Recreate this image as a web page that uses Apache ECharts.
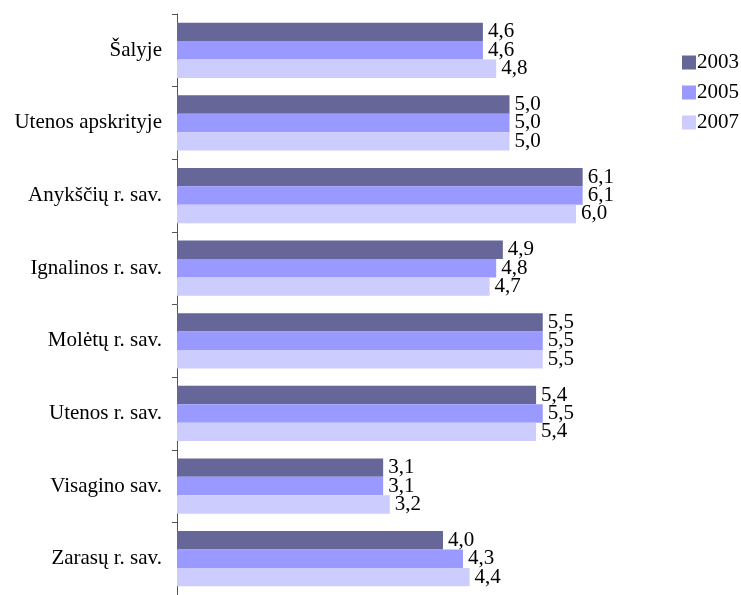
<!DOCTYPE html>
<html>
<head>
<meta charset="utf-8">
<script src="https://cdn.jsdelivr.net/npm/echarts@6/dist/echarts.min.js"></script>
<style>html,body{margin:0;padding:0;background:#fff;}#c{width:741px;height:595px;}</style>
</head>
<body>
<div id="c"></div>
<script>
const categories = ['Šalyje', 'Utenos apskrityje', 'Anykščių r. sav.', 'Ignalinos r. sav.', 'Molėtų r. sav.', 'Utenos r. sav.', 'Visagino sav.', 'Zarasų r. sav.'];
const seriesNames = ['2003', '2005', '2007'];
const values2003 = [4.6, 5.0, 6.1, 4.9, 5.5, 5.4, 3.1, 4.0];
const values2005 = [4.6, 5.0, 6.1, 4.8, 5.5, 5.5, 3.1, 4.3];
const values2007 = [4.8, 5.0, 6.0, 4.7, 5.5, 5.4, 3.2, 4.4];
const colors = ['#666699', '#9999FF', '#CCCCFF'];
const font = '"Liberation Serif", "Times New Roman", serif';

const chart = echarts.init(document.getElementById('c'));
const mk = (name, data, color) => ({
  name, type: 'bar', data,
  itemStyle: { color },
  barGap: '0%',
  barCategoryGap: '24%',
  label: {
    show: true, position: 'right', distance: 5,
    color: '#000', fontFamily: font, fontSize: 21,
    formatter: p => p.value.toFixed(1).replace('.', ',')
  },
  animation: false
});
chart.setOption({
  animation: false,
  textStyle: { fontFamily: font },
  legend: {
    orient: 'vertical', left: 677, top: 47,
    itemWidth: 14, itemHeight: 14, itemGap: 9,
    icon: 'rect',
    data: seriesNames,
    textStyle: { color: '#000', fontFamily: font, fontSize: 21, padding: [0, 0, 0, -4] }
  },
  grid: { left: 177, top: 14, width: 532, height: 585, containLabel: false },
  xAxis: { type: 'value', min: 0, max: 8, show: false },
  yAxis: {
    type: 'category', data: categories, inverse: true,
    axisLine: { show: true, lineStyle: { color: '#555', width: 1 } },
    axisTick: { show: true, length: 5, lineStyle: { color: '#555' } },
    axisLabel: { color: '#000', fontFamily: font, fontSize: 21, margin: 15 }
  },
  series: [mk(seriesNames[0], values2003, colors[0]), mk(seriesNames[1], values2005, colors[1]), mk(seriesNames[2], values2007, colors[2])]
});
</script>
</body>
</html>
